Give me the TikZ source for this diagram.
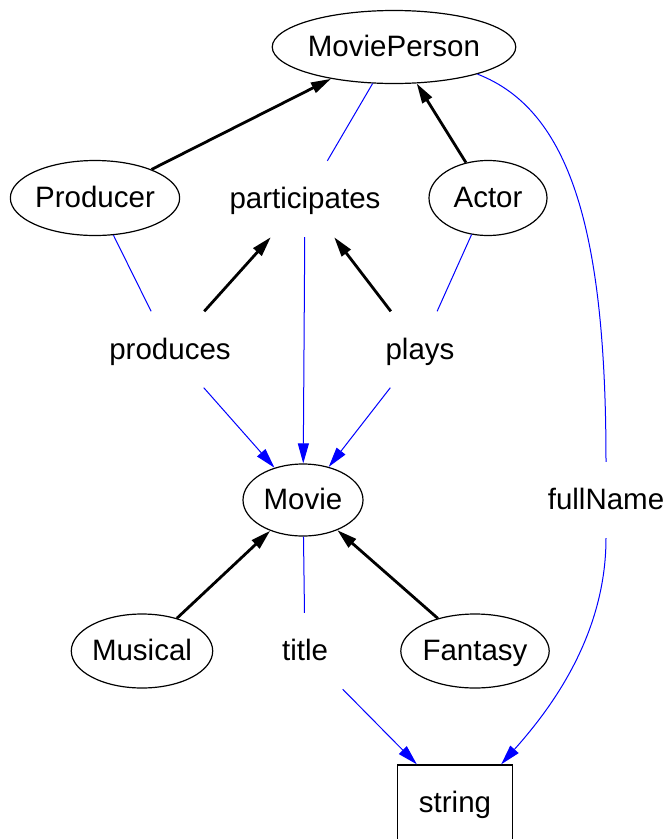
\documentclass[tikz,border=0pt]{standalone}
\usepackage{fontspec}
\setmainfont{Liberation Sans}
\usetikzlibrary{arrows.meta,shapes.geometric}
\begin{document}
\begin{tikzpicture}[x=1pt,y=-1pt,
  every node/.style={font=\fontsize{29.5}{34}\selectfont, text height=21pt, text depth=1.5pt, inner sep=0pt},
  cls/.style={ellipse, draw, line width=1.2pt},
  lbl/.style={minimum height=76pt, minimum width=150pt},
  prim/.style={rectangle, draw, line width=1.4pt, minimum width=115pt, minimum height=76pt},
  isa/.style={line width=2.8pt, -{Triangle[length=20pt,width=11pt]}},
  rel/.style={blue, line width=1pt},
  relarrow/.style={rel, -{Triangle[length=20pt,width=11pt]}}]
\useasboundingbox (0,0) rectangle (667,839);

% classes
\node[cls, minimum width=214pt, minimum height=73pt] (mp) at (394,47) {MoviePerson};
\node[cls, minimum width=162pt, minimum height=75pt] (prod) at (95,198) {Producer};
\node[cls, minimum width=118pt, minimum height=75pt] (act) at (488,198) {Actor};
\node[cls, minimum width=120pt, minimum height=72pt] (mov) at (303,500) {Movie};
\node[cls, minimum width=139pt, minimum height=74pt] (mus) at (142,651) {Musical};
\node[cls, minimum width=148pt, minimum height=74pt] (fan) at (475,651) {Fantasy};
\node[prim] (str) at (455,803) {string};

% relation labels
\node[lbl] (part) at (305,199) {participates};
\node[lbl] (pdc) at (170,349.5) {produces};
\node[lbl, minimum width=80pt] (pl) at (420,349.5) {plays};
\node[lbl, minimum width=100pt] (ttl) at (305,651) {title};
\node[lbl, minimum width=40pt] (fn) at (606,500) {fullName};

% inheritance
\draw[isa] (prod) -- (mp);
\draw[isa] (act) -- (mp);
\draw[isa] (mus) -- (mov);
\draw[isa] (fan) -- (mov);
\draw[isa] (pdc) -- (part);
\draw[isa] (pl) -- (part);

% relations
\draw[rel] (mp) -- (part);
\draw[relarrow] (part) -- (mov);
\draw[rel] (prod) -- (pdc);
\draw[relarrow] (pdc) -- (mov);
\draw[rel] (act) -- (pl);
\draw[relarrow] (pl) -- (mov);
\draw[rel] (mov) -- (ttl);
\draw[relarrow] (ttl) -- (str);
\draw[rel] (mp.-18) .. controls (570,110) and (606,230) .. (fn.north);
\draw[relarrow] (fn.south) .. controls (606,640) and (545,715) .. ([xshift=-12pt]str.north east);
\end{tikzpicture}
\end{document}
